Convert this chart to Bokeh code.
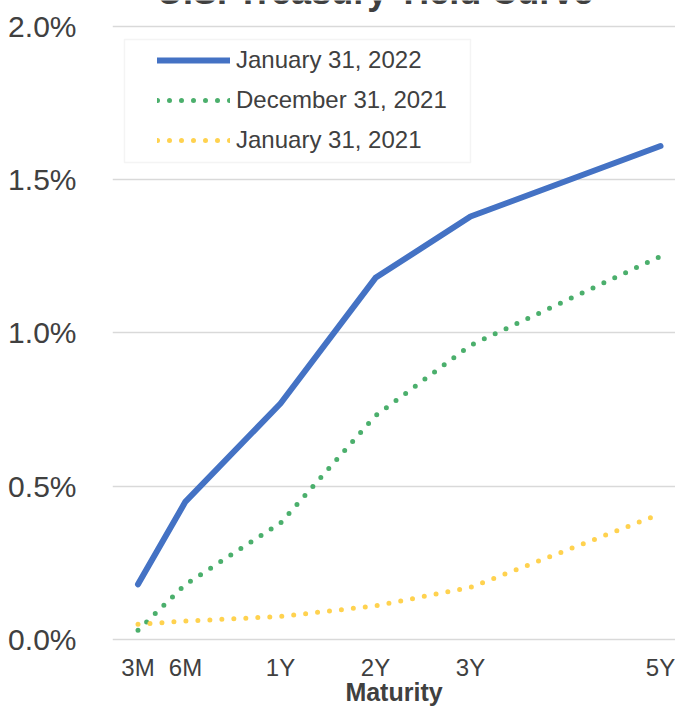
from bokeh.plotting import figure
from bokeh.models import (Range1d, FixedTicker, PrintfTickFormatter, Legend, LegendItem,
                          BoxAnnotation, Label)
from bokeh.embed import file_html
from bokeh.resources import INLINE

# ---- data ----
maturities = ["3M", "6M", "1Y", "2Y", "3Y", "5Y"]
x_pos = [-0.5, 0, 1, 2, 3, 5]
jan_2022 = [0.18, 0.45, 0.77, 1.18, 1.38, 1.61]
dec_2021 = [0.03, 0.18, 0.38, 0.73, 0.96, 1.25]
jan_2021 = [0.05, 0.06, 0.075, 0.11, 0.17, 0.41]
series_names = ["January 31, 2022", "December 31, 2021", "January 31, 2021"]
y_ticks = [0.0, 0.5, 1.0, 1.5, 2.0]
x_title = "Maturity"
chart_title = "U.S. Treasury Yield Curve"

TEXT = "#404040"
FONT = "Liberation Sans"

p = figure(width=675, height=708, output_backend="svg", toolbar_location=None,
           x_range=Range1d(-0.7684, 5.1579), y_range=Range1d(-0.0065, 2.0848),
           min_border_left=112, min_border_right=0, min_border_top=0, min_border_bottom=67)
p.outline_line_color = None
p.background_fill_color = "white"
p.border_fill_color = "white"

# axes
p.yaxis.ticker = FixedTicker(ticks=y_ticks)
p.yaxis.formatter = PrintfTickFormatter(format="%.1f%%")
p.yaxis.axis_line_color = None
p.yaxis.major_tick_line_color = None
p.yaxis.minor_tick_line_color = None
p.yaxis.major_label_text_font = FONT
p.yaxis.major_label_text_font_size = "30px"
p.yaxis.major_label_text_color = TEXT
p.yaxis.major_label_standoff = 30

p.xaxis.ticker = FixedTicker(ticks=x_pos)
p.xaxis.major_label_overrides = {x: m for x, m in zip(x_pos, maturities)}
p.xaxis.axis_line_color = None
p.xaxis.major_tick_line_color = None
p.xaxis.minor_tick_line_color = None
p.xaxis.major_label_text_font = FONT
p.xaxis.major_label_text_font_size = "24px"
p.xaxis.major_label_text_color = TEXT
p.xaxis.major_label_standoff = 6
p.xaxis.axis_label = x_title
p.xaxis.axis_label_text_font = FONT
p.xaxis.axis_label_text_font_size = "25px"
p.xaxis.axis_label_text_font_style = "bold"
p.xaxis.axis_label_text_color = TEXT
p.xaxis.axis_label_standoff = -6

p.xgrid.grid_line_color = None
p.ygrid.ticker = FixedTicker(ticks=y_ticks)
p.ygrid.grid_line_color = "#D9D9D9"
p.ygrid.grid_line_width = 1.5

# chart title (only its lower edge shows at the top, as in the reference)
p.add_layout(Label(x=2.0, y=2.1142, text=chart_title, text_align="center",
                   text_baseline="alphabetic", text_font=FONT, text_font_size="36px",
                   text_font_style="bold", text_color=TEXT))

# series
r1 = p.line(x_pos, jan_2022, line_color="#4472C4", line_width=6,
            line_cap="round", line_join="round")
r2 = p.line(x_pos, dec_2021, line_color="#4BAF6C", line_width=5,
            line_cap="round", line_join="round", line_dash="0 12")
r3 = p.line(x_pos, jan_2021, line_color="#FFD24F", line_width=5,
            line_cap="round", line_join="round", line_dash="0 12")

# legend frame
box = BoxAnnotation(left=-0.642, right=3.0, top=1.9576, bottom=1.5563,
                    fill_color="white", fill_alpha=1.0,
                    line_color="#D9D9D9", line_width=1.5)
p.add_layout(box)

legend = Legend(items=[LegendItem(label=series_names[0], renderers=[r1]),
                       LegendItem(label=series_names[1], renderers=[r2]),
                       LegendItem(label=series_names[2], renderers=[r3])],
                location=(45, 481), padding=0, margin=0, spacing=0,
                glyph_width=73, glyph_height=40, label_height=40, label_standoff=6,
                border_line_color=None, background_fill_alpha=0,
                label_text_font=FONT, label_text_font_size="24px",
                label_text_color=TEXT)
p.add_layout(legend, "center")

open("out.html", "w").write(file_html(p, INLINE))
